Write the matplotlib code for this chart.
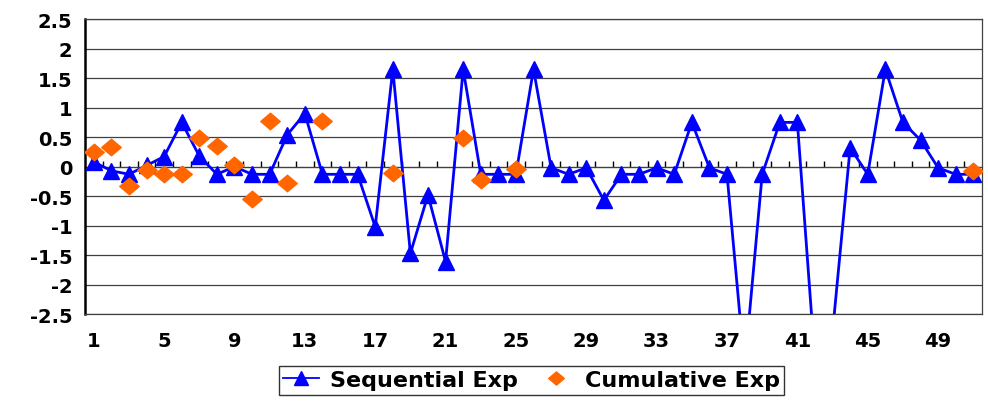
import numpy as np
import matplotlib.pyplot as plt
from matplotlib.path import Path

plt.rcParams['font.family'] = ['DejaVu Sans']
plt.rcParams['font.weight'] = 'bold'

# experiment index 1..51
idx = np.arange(1, 52)

sequential = [0.08, -0.07, -0.13, 0.02, 0.17, 0.75, 0.18, -0.13, 0.0, -0.13,
              -0.13, 0.54, 0.9, -0.13, -0.13, -0.13, -1.02, 1.65, -1.47, -0.48,
              -1.61, 1.65, -0.13, -0.13, -0.13, 1.65, -0.02, -0.13, -0.02, -0.57,
              -0.13, -0.13, -0.02, -0.13, 0.75, -0.02, -0.13, -3.4, -0.13, 0.75,
              0.75, -3.3, -2.8, 0.32, -0.13, 1.65, 0.75, 0.45, -0.02, -0.13,
              -0.13]

nan = np.nan
cumulative = [0.25, 0.34, -0.33, -0.06, -0.12, -0.12, 0.48, 0.35, 0.02, -0.55,
              0.78, -0.28, nan, 0.78, nan, nan, nan, -0.11, nan, nan,
              nan, 0.48, -0.23, nan, -0.04, nan, nan, nan, nan, nan,
              nan, nan, nan, nan, nan, nan, nan, nan, nan, nan,
              nan, nan, nan, nan, nan, nan, nan, nan, nan, nan,
              -0.08]

xlabels = [str(i) for i in range(1, 52, 4)]

fig = plt.figure(figsize=(9.88, 4.02), dpi=100)
ax = fig.add_axes([0.086, 0.216, 0.908, 0.734])

# wide diamond marker
diamond = Path([(-1, 0), (0, 0.85), (1, 0), (0, -0.85), (-1, 0)],
               [Path.MOVETO, Path.LINETO, Path.LINETO, Path.LINETO, Path.CLOSEPOLY])

ax.plot(idx, sequential, color='#0000FF', lw=2, marker='^', ms=12,
        label='Sequential Exp', zorder=3)
ax.plot(idx, cumulative, ls='none', marker=diamond, ms=14, color='#FF6600',
        label='Cumulative Exp', zorder=4)

ax.set_xlim(0.5, 51.5)
ax.set_ylim(-2.5, 2.5)
ax.set_yticks(np.arange(-2.5, 2.51, 0.5))
ax.set_yticklabels(['-2.5', '-2', '-1.5', '-1', '-0.5', '0', '0.5', '1', '1.5', '2', '2.5'])
ax.yaxis.grid(True, color='#404040', lw=0.9)
ax.set_axisbelow(True)

ax.set_xticks(range(1, 52, 4))
ax.set_xticklabels(xlabels)
ax.tick_params(axis='x', length=0, pad=12, labelsize=14)
ax.tick_params(axis='y', length=0, pad=9, labelsize=14)

for s in ['top', 'right', 'bottom']:
    ax.spines[s].set_color('#404040')
    ax.spines[s].set_linewidth(0.9)
ax.spines['left'].set_linewidth(1.8)
ax.spines['left'].set_color('black')

# category axis crossing at zero, with ticks between categories
sec = ax.secondary_xaxis(0.5)
sec.set_xticks(np.arange(1.5, 51.5, 1))
sec.set_xticklabels([])
sec.tick_params(axis='x', direction='out', length=4, width=1, color='black')
sec.spines['bottom'].set_color('black')
sec.spines['bottom'].set_linewidth(1.2)

leg = fig.legend(loc='center', bbox_to_anchor=(0.538, 0.052), ncol=2,
                 fontsize=16, frameon=True, fancybox=False, edgecolor='black',
                 handlelength=1.6, columnspacing=0.9, borderpad=0.2,
                 handletextpad=0.5, borderaxespad=0, markerscale=0.8)
leg.get_frame().set_linewidth(1)
leg.get_lines()[0].set_linewidth(1.3)

fig.savefig('out.png', dpi=100)
